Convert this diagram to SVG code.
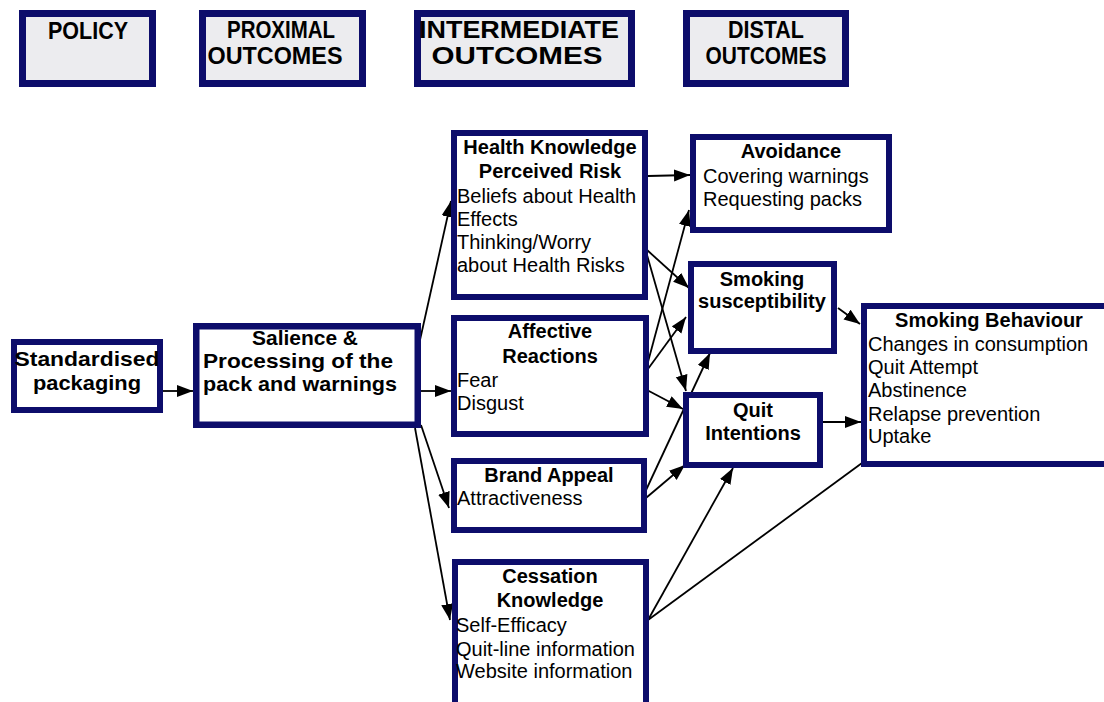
<svg xmlns="http://www.w3.org/2000/svg" width="1104" height="702" viewBox="0 0 1104 702">
<defs>
<marker id="ah" markerUnits="userSpaceOnUse" markerWidth="18" markerHeight="14" refX="16" refY="6" orient="auto">
<path d="M0,0 L16,6 L0,12 z" fill="#000"/>
</marker>
<style>
.hdr{fill:#ececef;stroke:#0d0d6b;stroke-width:7}
.box{fill:#fff;stroke:#0d0d6b;stroke-width:6}
.t{font-family:"Liberation Sans",Arial,sans-serif;fill:#000}
.hb{font-size:23px;font-weight:bold;text-anchor:middle}
.b{font-size:20px;font-weight:bold;text-anchor:middle}
.r{font-size:20px}
.big{font-size:21px;font-weight:bold;text-anchor:middle}
.sal{font-size:20.5px}
.e{stroke:#000;stroke-width:1.8;fill:none}
.ea{stroke:#000;stroke-width:1.8;fill:none;marker-end:url(#ah)}
</style>
</defs>
<rect width="1104" height="702" fill="#fff"/>

<g id="hdr-policy">
<rect class="hdr" x="22.5" y="13.5" width="130" height="70"/>
<text class="t hb" x="88" y="39" textLength="80" lengthAdjust="spacingAndGlyphs">POLICY</text>
</g>
<g id="hdr-proximal">
<rect class="hdr" x="202.5" y="13.5" width="160" height="70"/>
<text class="t hb" x="281" y="38" textLength="108" lengthAdjust="spacingAndGlyphs">PROXIMAL</text>
<text class="t hb" x="275" y="64" textLength="135" lengthAdjust="spacingAndGlyphs">OUTCOMES</text>
</g>
<g id="hdr-intermediate">
<rect class="hdr" x="417.5" y="13.5" width="214" height="70"/>
<text class="t hb" x="519" y="38" textLength="200" lengthAdjust="spacingAndGlyphs">INTERMEDIATE</text>
<text class="t hb" x="517" y="64" textLength="171" lengthAdjust="spacingAndGlyphs">OUTCOMES</text>
</g>
<g id="hdr-distal">
<rect class="hdr" x="686.5" y="13.5" width="159" height="70"/>
<text class="t hb" x="766" y="38" textLength="76" lengthAdjust="spacingAndGlyphs">DISTAL</text>
<text class="t hb" x="766" y="64" textLength="121" lengthAdjust="spacingAndGlyphs">OUTCOMES</text>
</g>

<g id="connectors">
<line class="ea" x1="163" y1="391" x2="193" y2="391"/>
<line class="ea" x1="421" y1="391" x2="451" y2="391"/>
<line class="ea" x1="420" y1="340" x2="451" y2="201"/>
<line class="ea" x1="421" y1="425" x2="449" y2="508"/>
<line class="ea" x1="415" y1="428" x2="450" y2="620"/>
<line class="ea" x1="648" y1="176" x2="690" y2="175"/>
<line class="ea" x1="647" y1="250" x2="689" y2="288"/>
<line class="ea" x1="647" y1="255" x2="686" y2="391"/>
<line class="ea" x1="645" y1="373" x2="689" y2="210"/>
<line class="ea" x1="645" y1="373" x2="686" y2="317"/>
<line class="ea" x1="647" y1="390" x2="683" y2="409"/>
<line class="ea" x1="640" y1="503" x2="710" y2="353"/>
<line class="ea" x1="640" y1="503" x2="685" y2="465"/>
<line class="ea" x1="648" y1="620" x2="733" y2="468"/>
<line class="e" x1="648" y1="620" x2="862" y2="463"/>
<line class="ea" x1="838" y1="308" x2="860" y2="324"/>
<line class="ea" x1="823" y1="422" x2="861" y2="422"/>
</g>

<g id="n-standardised">
<rect class="box" x="14" y="342" width="146" height="68"/>
<text class="t big" x="87" y="366" textLength="145" lengthAdjust="spacingAndGlyphs">Standardised</text>
<text class="t big" x="87" y="390" textLength="108" lengthAdjust="spacingAndGlyphs">packaging</text>
</g>
<g id="n-salience">
<rect class="box" x="196.25" y="326.25" width="221.5" height="98.5" style="stroke-width:6.5"/>
<text class="t big sal" x="305" y="345" textLength="106" lengthAdjust="spacingAndGlyphs">Salience &amp;</text>
<text class="t big sal" x="298" y="368" textLength="190" lengthAdjust="spacingAndGlyphs">Processing of the</text>
<text class="t big sal" x="300" y="391" textLength="194" lengthAdjust="spacingAndGlyphs">pack and warnings</text>
</g>
<g id="n-health">
<rect class="box" x="454" y="133" width="191" height="164"/>
<text class="t b" x="550" y="154">Health Knowledge</text>
<text class="t b" x="550" y="178">Perceived Risk</text>
<text class="t r" x="457" y="203">Beliefs about Health</text>
<text class="t r" x="457" y="226">Effects</text>
<text class="t r" x="457" y="249">Thinking/Worry</text>
<text class="t r" x="457" y="272">about Health Risks</text>
</g>
<g id="n-avoidance">
<rect class="box" x="693" y="137" width="196" height="93"/>
<text class="t b" x="791" y="158">Avoidance</text>
<text class="t r" x="703" y="183">Covering warnings</text>
<text class="t r" x="703" y="206">Requesting packs</text>
</g>
<g id="n-susceptibility">
<rect class="box" x="691" y="264" width="143" height="87"/>
<text class="t b" x="762" y="286">Smoking</text>
<text class="t b" x="762" y="308">susceptibility</text>
</g>
<g id="n-affective">
<rect class="box" x="454" y="318" width="192" height="116"/>
<text class="t b" x="550" y="338">Affective</text>
<text class="t b" x="550" y="363">Reactions</text>
<text class="t r" x="457" y="387">Fear</text>
<text class="t r" x="457" y="410">Disgust</text>
</g>
<g id="n-brand">
<rect class="box" x="454" y="461" width="190" height="69"/>
<text class="t b" x="549" y="482">Brand Appeal</text>
<text class="t r" x="457" y="505">Attractiveness</text>
</g>
<g id="n-quit">
<rect class="box" x="686" y="395" width="134" height="70"/>
<text class="t b" x="753" y="417">Quit</text>
<text class="t b" x="753" y="440">Intentions</text>
</g>
<g id="n-behaviour">
<rect class="box" x="864" y="306" width="243" height="158"/>
<text class="t b" x="989" y="327">Smoking Behaviour</text>
<text class="t r" x="868" y="351">Changes in consumption</text>
<text class="t r" x="868" y="374">Quit Attempt</text>
<text class="t r" x="868" y="397">Abstinence</text>
<text class="t r" x="868" y="421">Relapse prevention</text>
<text class="t r" x="868" y="443">Uptake</text>
</g>
<g id="n-cessation">
<rect class="box" x="455" y="562" width="191" height="145"/>
<text class="t b" x="550" y="583">Cessation</text>
<text class="t b" x="550" y="607">Knowledge</text>
<text class="t r" x="456" y="632">Self-Efficacy</text>
<text class="t r" x="456" y="656">Quit-line information</text>
<text class="t r" x="456" y="678">Website information</text>
</g>
</svg>
